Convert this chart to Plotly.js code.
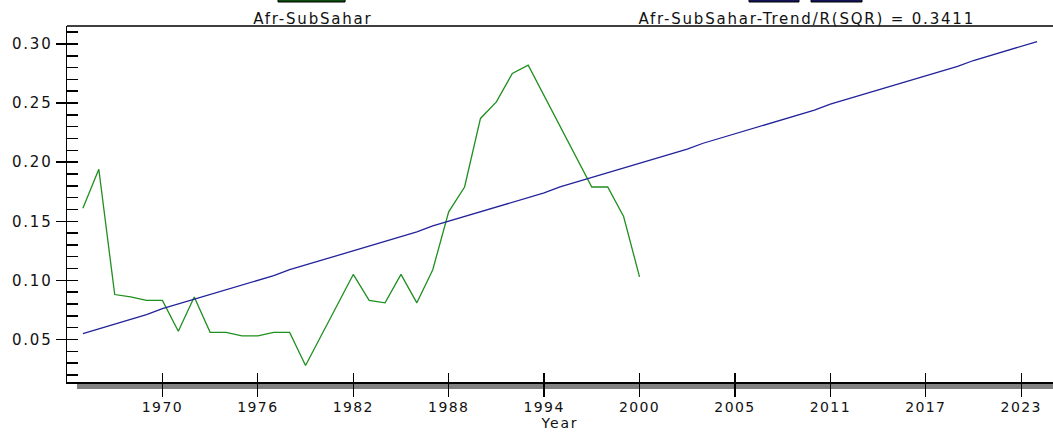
<!DOCTYPE html>
<html>
<head>
<meta charset="utf-8">
<script src="https://cdn.plot.ly/plotly-3.0.1.min.js"></script>
<style>
  html, body { margin: 0; padding: 0; background: #fff; }
  #chart { width: 1053px; height: 433px; }
  #chart text { letter-spacing: 1.8px; }
  #chart .xtick text { letter-spacing: 1.4px; }
</style>
</head>
<body>
<div id="chart"></div>
<script>
// Observed series (positions 1965..2000)
const years = [1965,1966,1967,1968,1969,1970,1971,1972,1973,1974,1975,1976,1977,1978,1979,1980,1981,1982,1983,1984,1985,1986,1987,1988,1989,1990,1991,1992,1993,1994,1995,1996,1997,1998,1999,2000];
const afrSubSahar = [0.161,0.194,0.088,0.086,0.083,0.083,0.057,0.086,0.056,0.056,0.053,0.053,0.056,0.056,0.028,0.054,0.080,0.105,0.083,0.081,0.105,0.081,0.109,0.158,0.179,0.237,0.251,0.275,0.282,0.256,0.230,0.205,0.179,0.179,0.154,0.103];

// Trend series, one value per axis position (1965 .. 2025)
const trendPos = [];
for (let p = 1965; p <= 2025; p++) trendPos.push(p);
const afrTrend = [0.055,0.059,0.063,0.067,0.071,0.076,0.080,0.084,0.088,0.092,0.096,0.100,0.104,0.109,0.113,0.117,0.121,0.125,0.129,0.133,0.137,0.141,0.146,0.150,0.154,0.158,0.162,0.166,0.170,0.174,0.179,0.183,0.187,0.191,0.195,0.199,0.203,0.207,0.211,0.216,0.220,0.224,0.228,0.232,0.236,0.240,0.244,0.249,0.253,0.257,0.261,0.265,0.269,0.273,0.277,0.281,0.286,0.290,0.294,0.298,0.302];

// Tick labels
const xTickPos = [1970,1976,1982,1988,1994,2000,2006,2012,2018,2024];
const xTickText = ['1970','1976','1982','1988','1994','2000','2005','2011','2017','2023'];
const yTickVals = [0.05,0.10,0.15,0.20,0.25,0.30];

const legendNames = ['Afr-SubSahar', 'Afr-SubSahar-Trend/R(SQR) = 0.3411'];

const FONT = 'DejaVu Sans, Liberation Sans, Arial, sans-serif';
const FS = 15;
const XR = [1964, 2026];
const YR = [0.014, 0.3152];

const traces = [
  { x: years, y: afrSubSahar, type: 'scatter', mode: 'lines', name: legendNames[0],
    line: { color: '#1f8f1f', width: 1.3 }, hoverinfo: 'x+y' },
  { x: trendPos, y: afrTrend, type: 'scatter', mode: 'lines', name: legendNames[1],
    line: { color: '#22229a', width: 1.3 }, hoverinfo: 'x+y' }
];

const layout = {
  width: 1053, height: 433,
  margin: { l: 67, r: 0, t: 26, b: 51, pad: 0 },
  paper_bgcolor: '#fff', plot_bgcolor: '#fff',
  showlegend: false,
  font: { family: FONT, size: FS, color: '#111' },
  xaxis: {
    range: XR, showgrid: false, zeroline: false,
    showline: true, linecolor: '#000', linewidth: 2,
    ticks: 'outside', ticklen: 13, tickwidth: 1.3, tickcolor: '#000',
    tickmode: 'array', tickvals: xTickPos, ticktext: xTickText,
    ticklabelstandoff: -2,
    tickfont: { family: FONT, size: 14, color: '#111' },
    title: { text: 'Year', font: { family: FONT, size: 14, color: '#111' }, standoff: 4 }
  },
  xaxis2: {
    overlaying: 'x', anchor: 'y', side: 'bottom', range: XR,
    showgrid: false, zeroline: false, showline: false,
    ticks: 'inside', ticklen: 9, tickwidth: 1.3, tickcolor: '#000',
    tickmode: 'array', tickvals: xTickPos, showticklabels: false
  },
  yaxis: {
    range: YR, showgrid: false, zeroline: false,
    showline: true, linecolor: '#000', linewidth: 1.5,
    ticks: 'outside', ticklen: 10, tickwidth: 1.5, tickcolor: '#000',
    tickmode: 'array', tickvals: yTickVals, tickformat: '.2f',
    tickfont: { family: FONT, size: FS, color: '#111' }
  },
  yaxis2: {
    overlaying: 'y', anchor: 'x', side: 'left', range: YR,
    showgrid: false, zeroline: false, showline: false,
    ticks: 'inside', ticklen: 11, tickwidth: 1.5, tickcolor: '#000',
    tickmode: 'linear', tick0: 0, dtick: 0.01, showticklabels: false
  },
  shapes: [
    // shadow under x axis
    { type: 'rect', xref: 'paper', yref: 'paper', x0: 0.0101, x1: 1.01, y0: -0.0197, y1: -0.003,
      fillcolor: '#808080', line: { width: 0 }, layer: 'below' },
    // top frame line
    { type: 'line', xref: 'paper', yref: 'paper', x0: 0, x1: 1.01, y0: 1, y1: 1,
      line: { color: '#000', width: 1.3 } },
    // legend swatches
    { type: 'rect', xref: 'paper', yref: 'paper', x0: 0.214, x1: 0.282, y0: 1.0674, y1: 1.09,
      fillcolor: '#0b4d0b', line: { color: '#000', width: 1 } },
    { type: 'rect', xref: 'paper', yref: 'paper', x0: 0.6917, x1: 0.7424, y0: 1.0674, y1: 1.09,
      fillcolor: '#14145a', line: { color: '#000', width: 1 } },
    { type: 'rect', xref: 'paper', yref: 'paper', x0: 0.7546, x1: 0.8063, y0: 1.0674, y1: 1.09,
      fillcolor: '#14145a', line: { color: '#000', width: 1 } }
  ],
  annotations: [
    { xref: 'paper', yref: 'paper', x: 0.2495, y: 1.021, xanchor: 'center', yanchor: 'middle',
      text: legendNames[0], showarrow: false, font: { family: FONT, size: FS, color: '#111' } },
    { xref: 'paper', yref: 'paper', x: 0.7505, y: 1.021, xanchor: 'center', yanchor: 'middle',
      text: legendNames[1], showarrow: false, font: { family: FONT, size: FS, color: '#111' } }
  ]
};

// helper trace so the overlay axes render
traces.push({ x: [XR[0]], y: [YR[0]], xaxis: 'x2', yaxis: 'y2', type: 'scatter', mode: 'markers',
  marker: { opacity: 0 }, hoverinfo: 'skip', showlegend: false });

Plotly.newPlot('chart', traces, layout, { displayModeBar: false, staticPlot: true });
</script>
</body>
</html>
